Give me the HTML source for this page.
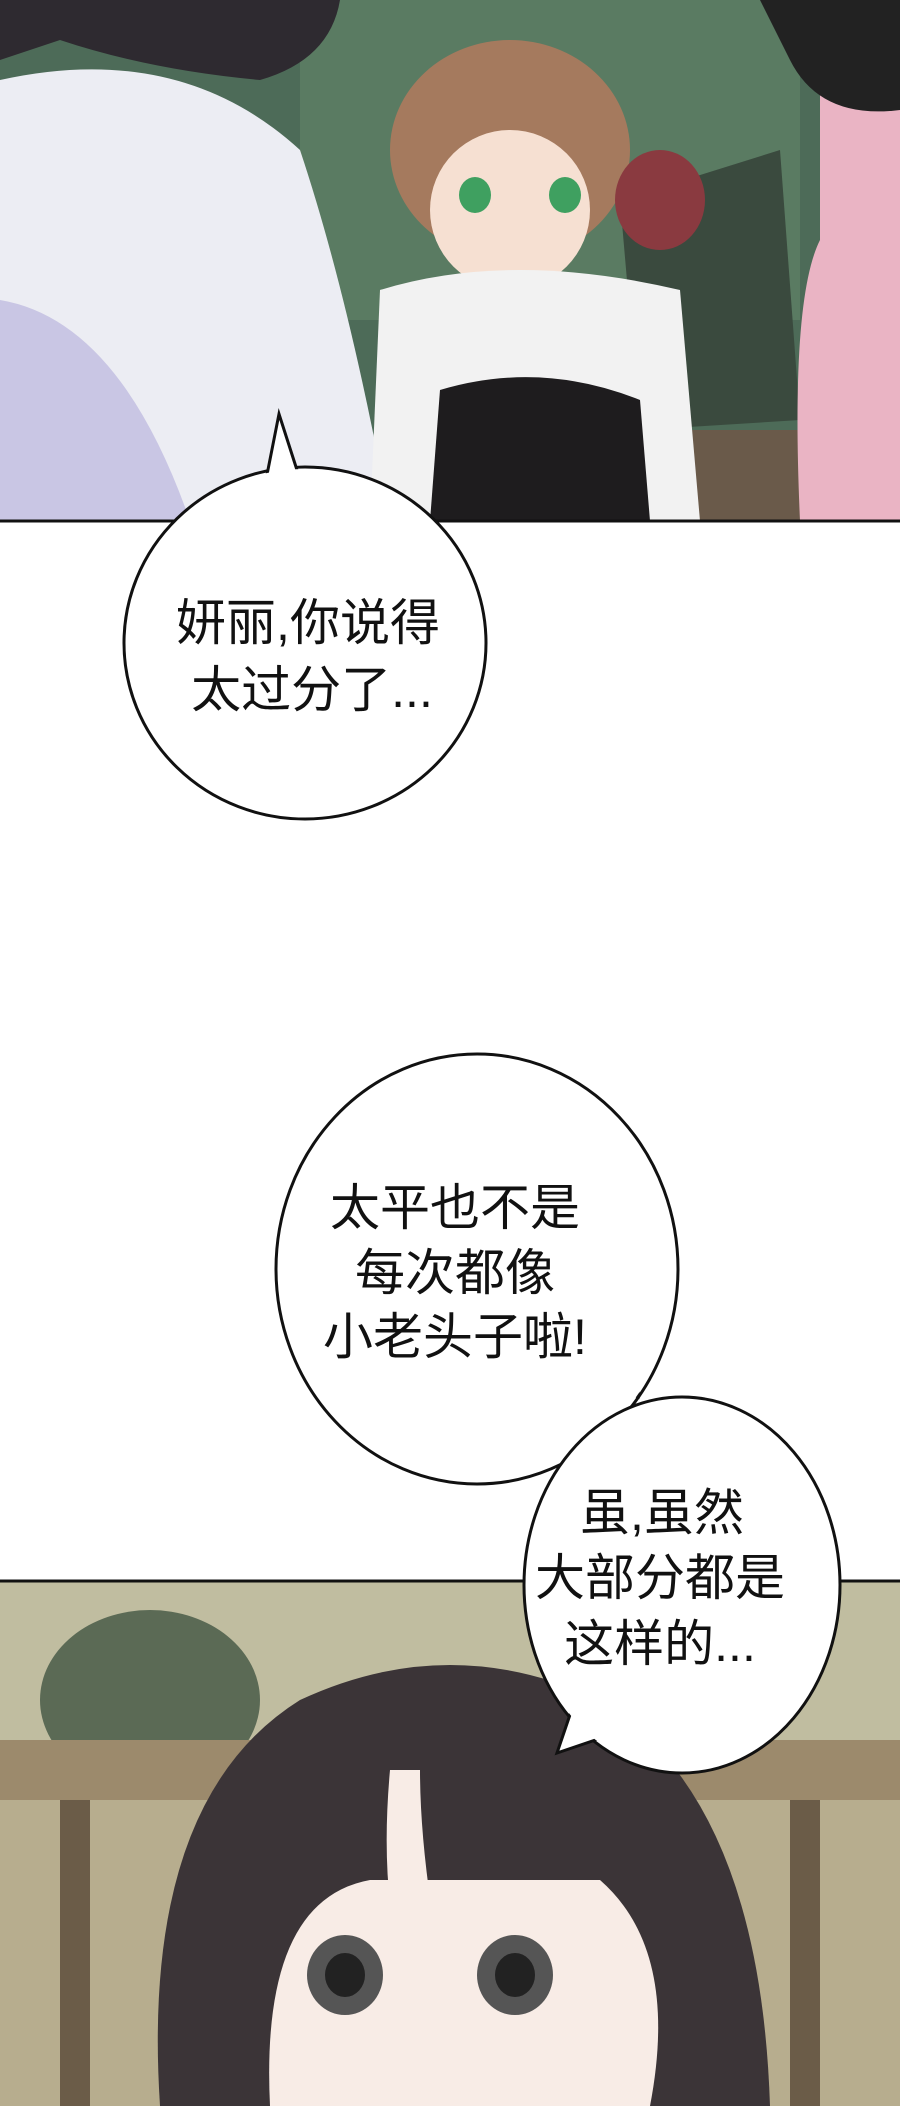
<!DOCTYPE html>
<html><head><meta charset="utf-8"><style>
html,body{margin:0;padding:0;background:#fff}
svg{display:block}
text{font-family:"Liberation Sans","Noto Sans CJK SC",sans-serif;font-size:50px;fill:#111;text-anchor:middle}
</style></head><body>
<svg width="900" height="2106" viewBox="0 0 900 2106" xmlns="http://www.w3.org/2000/svg">
<rect width="900" height="2106" fill="#fff"/>
<rect x="0" y="0" width="900" height="521" fill="#4d6b58"/>
<rect x="300" y="0" width="500" height="320" fill="#5a7b62"/>
<rect x="380" y="430" width="440" height="91" fill="#6a5a4a"/>
<polygon points="620,200 780,150 800,420 640,430" fill="#3a4a3e"/>
<path d="M0,80 Q180,40 300,150 Q350,300 390,521 L0,521 Z" fill="#ecedf3"/>
<path d="M0,300 Q120,320 190,521 L0,521 Z" fill="#c9c6e4"/>
<path d="M0,0 L340,0 Q330,60 260,80 Q150,70 60,40 L0,60 Z" fill="#2e2a30"/>
<ellipse cx="510" cy="150" rx="120" ry="110" fill="#a57a5e"/>
<ellipse cx="660" cy="200" rx="45" ry="50" fill="#8a3a40"/>
<ellipse cx="510" cy="210" rx="80" ry="80" fill="#f6e0d2"/>
<ellipse cx="475" cy="195" rx="16" ry="18" fill="#3fa060"/>
<ellipse cx="565" cy="195" rx="16" ry="18" fill="#3fa060"/>
<path d="M380,290 Q510,250 680,290 L700,521 L370,521 Z" fill="#f2f2f2"/>
<path d="M440,390 Q540,360 640,400 L650,521 L430,521 Z" fill="#1e1c1e"/>
<path d="M820,0 L900,0 L900,521 L800,521 Q790,300 820,240 Z" fill="#eab4c4"/>
<path d="M760,0 L900,0 L900,110 Q820,120 790,60 Z" fill="#222"/>
<line x1="0" y1="521" x2="900" y2="521" stroke="#111" stroke-width="3"/>
<rect x="0" y="1581" width="900" height="525" fill="#b7ad8e"/>
<rect x="0" y="1581" width="900" height="160" fill="#c0bda0"/>
<ellipse cx="150" cy="1700" rx="110" ry="90" fill="#5b6a55"/>
<rect x="0" y="1740" width="900" height="60" fill="#9c8a6c"/>
<rect x="60" y="1800" width="30" height="306" fill="#6b5c48"/>
<rect x="790" y="1800" width="30" height="306" fill="#6b5c48"/>
<path d="M160,2106 Q140,1800 300,1700 Q450,1630 600,1700 Q760,1800 770,2106 Z" fill="#3b3437"/>
<path d="M270,2106 Q260,1900 370,1880 L600,1880 Q680,1950 650,2106 Z" fill="#f8ece6"/>
<path d="M390,1770 Q380,1880 400,1960 L440,1960 Q420,1850 420,1770 Z" fill="#f8ece6"/>
<ellipse cx="345" cy="1975" rx="38" ry="40" fill="#555"/>
<ellipse cx="515" cy="1975" rx="38" ry="40" fill="#555"/>
<ellipse cx="345" cy="1975" rx="20" ry="22" fill="#222"/>
<ellipse cx="515" cy="1975" rx="20" ry="22" fill="#222"/>
<line x1="0" y1="1581" x2="900" y2="1581" stroke="#111" stroke-width="3"/>
<g fill="#fff" stroke="#111" stroke-width="3">
<ellipse cx="305" cy="643" rx="181" ry="176"/>
<polygon points="262,500 279,414 305,495"/>
<ellipse cx="477" cy="1269" rx="201" ry="215"/>
<polygon points="600,1380 638,1397 640,1330"/>
</g>
<ellipse cx="305" cy="643" rx="179" ry="174" fill="#fff"/>
<ellipse cx="477" cy="1269" rx="199" ry="213" fill="#fff"/>
<g fill="#fff" stroke="#111" stroke-width="3">
<ellipse cx="682" cy="1585" rx="158" ry="188"/>
<polygon points="575,1700 557,1753 610,1735"/>
</g>
<ellipse cx="682" cy="1585" rx="156" ry="186" fill="#fff"/>
<text x="308" y="640">妍丽,你说得</text>
<text x="312" y="707">太过分了...</text>
<text x="455" y="1225">太平也不是</text>
<text x="455" y="1290">每次都像</text>
<text x="455" y="1354">小老头子啦!</text>
<text x="662" y="1530">虽,虽然</text>
<text x="660" y="1595">大部分都是</text>
<text x="660" y="1661">这样的...</text>
</svg>
</body></html>
